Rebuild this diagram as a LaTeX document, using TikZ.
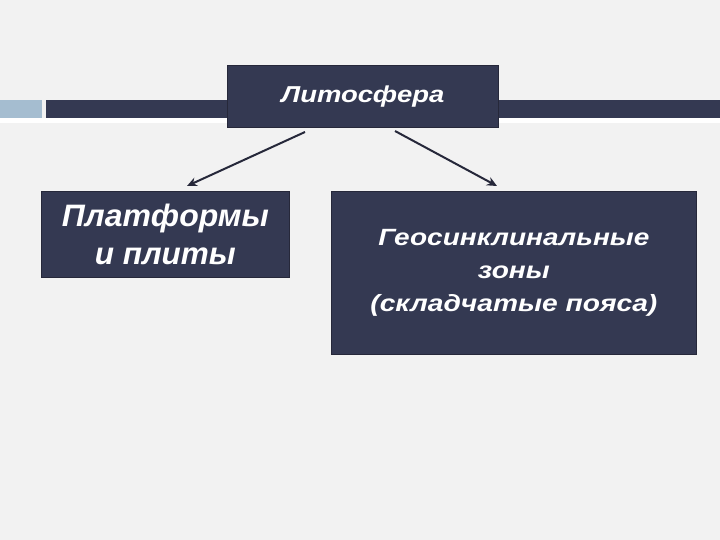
\documentclass[tikz,border=0pt]{standalone}
\usepackage{fontspec}
\setmainfont{Liberation Sans}
\usetikzlibrary{arrows.meta}
\definecolor{bg}{RGB}{242,242,242}
\definecolor{navy}{RGB}{52,57,82}
\definecolor{edge}{RGB}{38,40,58}
\definecolor{lightblue}{RGB}{165,189,208}
\newcommand\wline[2]{\resizebox{#1pt}{\height}{#2}}
\tikzset{
  boxnode/.style={draw=edge, line width=0.8pt, fill=navy, text=white, inner sep=0pt, anchor=north west, align=center},
  conn/.style={draw=edge, line width=2pt, -{Stealth[length=10pt,width=9pt]}}
}
\begin{document}
\begin{tikzpicture}[x=1pt,y=-1pt]
\fill[bg] (0,0) rectangle (720,540);
\useasboundingbox (0,0) rectangle (720,540);
% top band
\fill[white] (0,118) rectangle (720,123);
\fill[lightblue] (0,100) rectangle (42,118);
\fill[navy] (46,100) rectangle (720,118);
% boxes
\node[boxnode, minimum width=271pt, minimum height=62pt,
  font=\fontsize{23}{27}\selectfont\bfseries\itshape] (top) at (227,65)
  {\wline{163}{Литосфера}};
\node[boxnode, minimum width=248pt, minimum height=86pt,
  font=\fontsize{31}{38}\selectfont\bfseries\itshape] (left) at (41,191)
  {\wline{207}{Платформы}\\ \wline{141}{и плиты}};
\node[boxnode, minimum width=365pt, minimum height=163pt,
  font=\fontsize{23.5}{33}\selectfont\bfseries\itshape] (right) at (331,191)
  {\wline{271}{Геосинклинальные}\\ \wline{72}{зоны}\\ \wline{287}{(складчатые пояса)}};
% connectors
\coordinate (ls) at (305,132);
\coordinate (le) at (187,186);
\coordinate (rs) at (395,131);
\coordinate (re) at (497,186);
\draw[conn] (ls) -- (le);
\draw[conn] (rs) -- (re);
\end{tikzpicture}
\end{document}
